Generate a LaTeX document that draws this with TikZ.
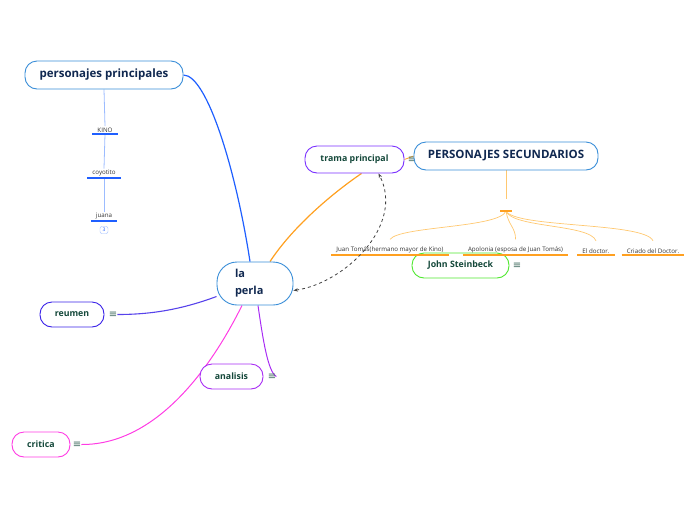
\documentclass[tikz,border=0pt]{standalone}
\usepackage{fontspec}
\setmainfont{Open Sans}
\newfontfamily\symfont{DejaVu Sans}
\usetikzlibrary{arrows.meta,backgrounds}

\definecolor{boxblue}{HTML}{3A8ED8}
\definecolor{navy}{HTML}{102850}
\definecolor{darkgreen}{HTML}{14483A}
\definecolor{linkblue}{HTML}{1F5FFF}
\definecolor{paleblue}{HTML}{9CBCFF}
\definecolor{linkorange}{HTML}{FFA020}
\definecolor{paleorange}{HTML}{FFC870}
\definecolor{tramapurple}{HTML}{7A30FF}
\definecolor{johngreen}{HTML}{50E830}
\definecolor{reumenblue}{HTML}{3A22E8}
\definecolor{anapurple}{HTML}{A82CF4}
\definecolor{critpink}{HTML}{FF3CE4}

\tikzset{
  topic/.style={draw=boxblue, line width=0.9pt, fill=white, rounded corners=12pt,
    font=\bfseries\fontsize{10.5}{12}\selectfont, text=navy, inner sep=0pt},
  subtopic/.style={topic, font=\bfseries\fontsize{8.8}{10}\selectfont, text=darkgreen},
  item/.style={font=\fontsize{6.2}{7}\selectfont, text=black!80, inner ysep=1.5pt, inner xsep=5pt},
  menu/.style={font=\symfont\fontsize{10}{10}\selectfont, text=darkgreen!80, inner sep=0pt},
  itemline/.style={line width=1.4pt},
}

\begin{document}
\begin{tikzpicture}[x=1pt,y=-1pt]
\useasboundingbox (0,0) rectangle (696,520);

% central topic
\node[topic, minimum width=76pt, minimum height=43pt, rounded corners=20pt,
  text width=40pt, align=left, font=\bfseries\fontsize{11}{17}\selectfont] (perla) at (255,283.5) {la\\perla};

% main branches
\node[topic, minimum width=158pt, minimum height=28pt, font=\bfseries\fontsize{11.5}{13}\selectfont] (pp) at (104,75) {personajes principales};
\node[subtopic, draw=tramapurple, minimum width=99pt, minimum height=27pt] (trama) at (354.5,159.5) {trama principal};
\node[menu] (tramam) at (412,160) {≡};
\node[topic, minimum width=184pt, minimum height=28pt, font=\bfseries\fontsize{11.5}{13}\selectfont] (sec) at (506,156) {PERSONAJES SECUNDARIOS};
\node[subtopic, draw=johngreen, minimum width=97pt, minimum height=25pt] (john) at (460.5,265.5) {John Steinbeck};
\node[menu] (johnm) at (517,265.5) {≡};
\node[subtopic, draw=reumenblue, minimum width=64pt, minimum height=25pt] (reumen) at (72,314.5) {reumen};
\node[menu] (reumenm) at (113,314.5) {≡};
\node[subtopic, draw=anapurple, minimum width=63pt, minimum height=25pt] (analisis) at (231.5,376.5) {analisis};
\node[menu] (analisism) at (272,376.5) {≡};
\node[subtopic, draw=critpink, minimum width=58pt, minimum height=25pt] (critica) at (41,444.5) {critica};
\node[menu] (criticam) at (77,444.5) {≡};

% personajes principales
\node[item, anchor=south] (kino) at (105,134) {KINO};
\node[item, anchor=south] (coyotito) at (104,178) {coyotito};
\node[item, anchor=south] (juana) at (104,221) {juana};
\node[draw=paleblue, rounded corners=2pt, font=\fontsize{5}{5}\selectfont, text=linkblue,
  inner sep=0.8pt, minimum width=8pt, minimum height=7pt] (badge) at (104,230) {3};
\foreach \n in {kino,coyotito,juana}
  \draw[itemline, linkblue] (\n.south west) -- (\n.south east);

% personajes secundarios
\coordinate (bar) at (506,211);
\node[item, anchor=south] (juan) at (390,255) {Juan Tomás(hermano mayor de Kino)};
\node[item, anchor=south] (apolonia) at (515.5,255) {Apolonia (esposa de Juan Tomás)};
\node[item, anchor=south] (doctor) at (596,255) {El doctor.};
\node[item, anchor=south] (criado) at (653,255) {Criado del Doctor.};
\foreach \n in {juan,apolonia,doctor,criado}
  \draw[itemline, linkorange] (\n.south west) -- (\n.south east);
\draw[itemline, linkorange] ([xshift=-6pt]bar) -- ([xshift=6pt]bar);

\begin{pgfonlayer}{background}
  \draw[linkblue, line width=1.2pt] (pp.east) .. controls (207,75) and (236,170) .. ([xshift=-5pt]perla.north);
  \draw[paleblue, line width=0.8pt] (pp.south) -- (kino.north);
  \draw[paleblue, line width=0.8pt] (kino.south) -- (coyotito.north);
  \draw[paleblue, line width=0.8pt] (coyotito.south) -- (juana.north);
  \draw[linkorange, line width=1.2pt] ([xshift=15pt]perla.north) .. controls (292,228) and (330,195) .. ([xshift=7pt]trama.south);
  \draw[linkorange, line width=0.8pt] (trama.east) -- (sec.west);
  \draw[paleorange, line width=0.8pt] (sec.south) -- ([yshift=12pt]bar);
  \draw[paleorange, line width=0.7pt] (bar) .. controls (500,228) and (400,226) .. ([yshift=6pt]juan.north);
  \draw[paleorange, line width=0.7pt] (bar) .. controls (508,225) and (516,228) .. ([yshift=6pt]apolonia.north);
  \draw[paleorange, line width=0.7pt] (bar) .. controls (512,228) and (590,224) .. ([yshift=6pt]doctor.north);
  \draw[paleorange, line width=0.7pt] (bar) .. controls (515,228) and (645,222) .. ([yshift=6pt]criado.north);
  \draw[reumenblue!85, line width=1.1pt] ([yshift=-13pt]perla.west) .. controls (180,310) and (150,314.5) .. (reumenm.east);
  \draw[anapurple, line width=1pt] ([xshift=3pt]perla.south) .. controls (263,340) and (268,372) .. (analisism.east);
  \draw[critpink, line width=1pt] ([xshift=-13pt]perla.south) .. controls (215,360) and (160,445) .. (criticam.east);
\end{pgfonlayer}

% relation
\draw[black!75, dashed, line width=0.8pt, {Stealth[length=4.5pt]}-{Stealth[length=4.5pt]}]
  ([yshift=-7pt]perla.east) .. controls (345,283) and (405,225) .. ([xshift=24pt]trama.south);
\end{tikzpicture}
\end{document}
